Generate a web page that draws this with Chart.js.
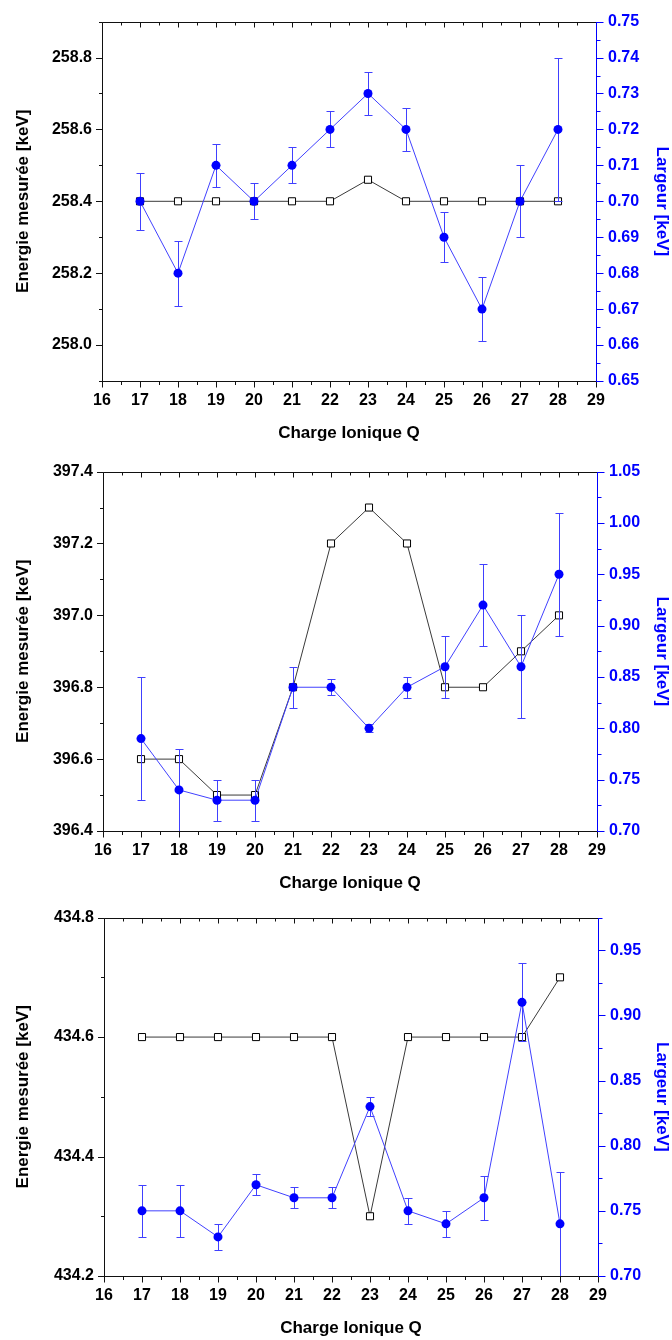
<!DOCTYPE html>
<html lang="fr">
<head>
<meta charset="utf-8">
<title>Energie mesurée et largeur en fonction de la charge ionique</title>
<script src="https://cdn.jsdelivr.net/npm/chart.js@4.4.1/dist/chart.umd.min.js"></script>
<style>
  html, body { margin: 0; padding: 0; background: #fff; }
  body { width: 672px; height: 1340px; position: relative; overflow: hidden; }
  canvas { position: absolute; left: 0; }
</style>
</head>
<body>
<canvas id="chart-1" width="672" height="450" style="top:0px"></canvas>
<canvas id="chart-2" width="672" height="446" style="top:450px"></canvas>
<canvas id="chart-3" width="672" height="444" style="top:896px"></canvas>
<script>
const charges = [17, 18, 19, 20, 21, 22, 23, 24, 25, 26, 27, 28];
const chargeTicks = [16, 17, 18, 19, 20, 21, 22, 23, 24, 25, 26, 27, 28, 29];

// panel 1 (~258 keV)
const energy1 = [258.4, 258.4, 258.4, 258.4, 258.4, 258.4, 258.46, 258.4, 258.4, 258.4, 258.4, 258.4];
const width1 = [0.70, 0.68, 0.71, 0.70, 0.71, 0.72, 0.73, 0.72, 0.69, 0.67, 0.70, 0.72];
const widthErr1 = [0.008, 0.009, 0.006, 0.005, 0.005, 0.005, 0.006, 0.006, 0.007, 0.009, 0.01, 0.02];
const energyTicks1 = [258.0, 258.2, 258.4, 258.6, 258.8];
const widthTicks1 = [0.65, 0.66, 0.67, 0.68, 0.69, 0.70, 0.71, 0.72, 0.73, 0.74, 0.75];
const energyRange1 = [257.9, 258.9];
const widthRange1 = [0.65, 0.75];

// panel 2 (~397 keV)
const energy2 = [396.6, 396.6, 396.5, 396.5, 396.8, 397.2, 397.3, 397.2, 396.8, 396.8, 396.9, 397.0];
const width2 = [0.79, 0.74, 0.73, 0.73, 0.84, 0.84, 0.80, 0.84, 0.86, 0.92, 0.86, 0.95];
const widthErr2 = [0.06, 0.04, 0.02, 0.02, 0.02, 0.008, 0.004, 0.01, 0.03, 0.04, 0.05, 0.06];
const energyTicks2 = [396.4, 396.6, 396.8, 397.0, 397.2, 397.4];
const widthTicks2 = [0.70, 0.75, 0.80, 0.85, 0.90, 0.95, 1.00, 1.05];
const energyRange2 = [396.4, 397.4];
const widthRange2 = [0.70, 1.05];

// panel 3 (~434 keV)
const energy3 = [434.6, 434.6, 434.6, 434.6, 434.6, 434.6, 434.3, 434.6, 434.6, 434.6, 434.6, 434.7];
const width3 = [0.75, 0.75, 0.73, 0.77, 0.76, 0.76, 0.83, 0.75, 0.74, 0.76, 0.91, 0.74];
const widthErr3 = [0.02, 0.02, 0.01, 0.008, 0.008, 0.008, 0.007, 0.01, 0.01, 0.017, 0.03, 0.04];
const energyTicks3 = [434.2, 434.4, 434.6, 434.8];
const widthTicks3 = [0.70, 0.75, 0.80, 0.85, 0.90, 0.95];
const energyRange3 = [434.2, 434.8];
const widthRange3 = [0.70, 0.975];

const FONT = '"Liberation Sans", Arial, Helvetica, sans-serif';
const BLUE = '#0000ff';
const BLUE_LINE = '#4040ff';

// minor ticks sit half way between the labelled ones
const minorValues = (majors, min, max) => {
  const step = majors[1] - majors[0];
  const out = [];
  for (let v = majors[0] - step / 2; v <= max + 1e-9; v += step) {
    if (v >= min - 1e-9) out.push(v);
  }
  return out;
};

const crisp = (v) => Math.round(v) + 0.5;

const framePlugin = {
  id: 'frame',
  afterDraw(chart) {
    const { ctx, chartArea: a, scales } = chart;
    const { x, y, y2 } = scales;
    const L = crisp(a.left), R = crisp(a.right), T = crisp(a.top), B = crisp(a.bottom);
    const seg = (x1, y1, x2, y2b) => {
      ctx.beginPath();
      ctx.moveTo(x1, y1);
      ctx.lineTo(x2, y2b);
      ctx.stroke();
    };
    ctx.save();
    ctx.lineWidth = 1;

    // black frame: left, top, bottom
    ctx.strokeStyle = '#111';
    seg(L, T, L, B + 0.5);
    seg(L, T, R, T);
    seg(L, B, R, B);

    // x ticks: out at the bottom, in at the top
    const xMajor = x.ticks.map((t) => t.value);
    xMajor.forEach((v) => {
      const px = crisp(x.getPixelForValue(v));
      seg(px, B, px, B + 6);
      seg(px, T, px, T + 5);
    });
    minorValues(xMajor, x.min, x.max).forEach((v) => {
      const px = crisp(x.getPixelForValue(v));
      seg(px, B, px, B + 3.5);
      seg(px, T, px, T + 3);
    });

    // left ticks
    const yMajor = y.ticks.map((t) => t.value);
    yMajor.forEach((v) => {
      const py = crisp(y.getPixelForValue(v));
      seg(L - 6.5, py, L, py);
    });
    minorValues(yMajor, y.min, y.max).forEach((v) => {
      const py = crisp(y.getPixelForValue(v));
      seg(L - 3.5, py, L, py);
    });

    // right axis in blue
    ctx.strokeStyle = BLUE;
    seg(R, T - 0.5, R, B + 0.5);
    const y2Major = y2.ticks.map((t) => t.value);
    y2Major.forEach((v) => {
      const py = crisp(y2.getPixelForValue(v));
      seg(R, py, R + 7, py);
    });
    minorValues(y2Major, y2.min, y2.max).forEach((v) => {
      const py = crisp(y2.getPixelForValue(v));
      seg(R, py, R + 4, py);
    });
    ctx.restore();
  },
};

const errorBarPlugin = {
  id: 'errorBars',
  beforeDatasetDraw(chart, args) {
    const ds = chart.data.datasets[args.index];
    if (!ds.errors) return;
    const { ctx, chartArea: a } = chart;
    const scale = chart.scales[args.meta.yAxisID];
    ctx.save();
    ctx.beginPath();
    ctx.rect(a.left, a.top - 1, a.right - a.left, a.bottom - a.top + 1);
    ctx.clip();
    ctx.strokeStyle = BLUE_LINE;
    ctx.lineWidth = 1;
    args.meta.data.forEach((pt, i) => {
      const v = ds.data[i].y;
      const e = ds.errors[i];
      const px = crisp(pt.x);
      const top = Math.round(scale.getPixelForValue(v + e)) + 0.5;
      const bot = Math.round(scale.getPixelForValue(v - e)) + 0.5;
      ctx.beginPath();
      ctx.moveTo(px, top);
      ctx.lineTo(px, bot);
      ctx.moveTo(px - 4, top);
      ctx.lineTo(px + 4, top);
      ctx.moveTo(px - 4, bot);
      ctx.lineTo(px + 4, bot);
      ctx.stroke();
    });
    ctx.restore();
  },
};

const toPoints = (ys) => charges.map((c, i) => ({ x: c, y: ys[i] }));

const buildConfig = (p) => ({
  type: 'line',
  data: {
    datasets: [
      {
        label: 'Largeur',
        data: toPoints(p.width),
        errors: p.widthErr,
        yAxisID: 'y2',
        order: 0,
        borderColor: BLUE_LINE,
        borderWidth: 1,
        pointStyle: 'circle',
        pointRadius: 4.5,
        pointBackgroundColor: BLUE,
        pointBorderColor: BLUE,
        pointBorderWidth: 0,
        tension: 0,
      },
      {
        label: 'Energie mesurée',
        data: toPoints(p.energy),
        yAxisID: 'y',
        order: 1,
        borderColor: '#3a3a3a',
        borderWidth: 1,
        pointStyle: 'rect',
        pointRadius: 5,
        pointBackgroundColor: '#ffffff',
        pointBorderColor: '#000000',
        pointBorderWidth: 1,
        tension: 0,
      },
    ],
  },
  options: {
    responsive: false,
    animation: false,
    devicePixelRatio: 1,
    layout: { padding: { top: 17, left: 0, right: 0, bottom: 0 } },
    plugins: {
      legend: { display: false },
      tooltip: { enabled: false },
    },
    scales: {
      x: {
        type: 'linear',
        position: 'bottom',
        min: 16,
        max: 29,
        afterBuildTicks: (s) => {
          s.ticks = chargeTicks.map((value) => ({ value }));
        },
        afterFit: (s) => {
          s.height = p.xHeight;
        },
        grid: { display: false, drawTicks: false },
        border: { display: false },
        ticks: {
          padding: 10,
          color: '#000',
          font: { family: FONT, size: 16, weight: 'bold' },
          callback: (v) => String(v),
        },
        title: {
          display: true,
          text: 'Charge Ionique Q',
          color: '#000',
          font: { family: FONT, size: 17, weight: 'bold' },
          padding: { top: 0, bottom: p.titlePad },
        },
      },
      y: {
        type: 'linear',
        position: 'left',
        min: p.energyRange[0],
        max: p.energyRange[1],
        afterBuildTicks: (s) => {
          s.ticks = p.energyTicks.map((value) => ({ value }));
        },
        afterFit: (s) => {
          s.width = p.left;
        },
        grid: { display: false, drawTicks: false },
        border: { display: false },
        ticks: {
          padding: 10,
          color: '#000',
          font: { family: FONT, size: 16, weight: 'bold' },
          callback: (v) => v.toFixed(1),
        },
        title: {
          display: true,
          text: 'Energie mesurée [keV]',
          color: '#000',
          font: { family: FONT, size: 17, weight: 'bold' },
          padding: { top: 13, bottom: 0 },
        },
      },
      y2: {
        type: 'linear',
        position: 'right',
        min: p.widthRange[0],
        max: p.widthRange[1],
        afterBuildTicks: (s) => {
          s.ticks = p.widthTicks.map((value) => ({ value }));
        },
        afterFit: (s) => {
          s.width = 672 - p.right;
        },
        grid: { display: false, drawTicks: false },
        border: { display: false },
        ticks: {
          padding: 12,
          color: BLUE,
          font: { family: FONT, size: 16, weight: 'bold' },
          callback: (v) => v.toFixed(2),
        },
        title: {
          display: true,
          text: 'Largeur [keV]',
          color: BLUE,
          font: { family: FONT, size: 17, weight: 'bold' },
          padding: { top: 0, bottom: 0 },
        },
      },
    },
  },
  plugins: [framePlugin, errorBarPlugin],
});

const initChart1 = () => {
  const config = buildConfig({
    energy: energy1, width: width1, widthErr: widthErr1,
    energyTicks: energyTicks1, widthTicks: widthTicks1,
    energyRange: energyRange1, widthRange: widthRange1,
    left: 102, right: 596, xHeight: 69, titlePad: 6.8,
  });
  return new Chart(document.getElementById('chart-1'), config);
};

const initChart2 = () => {
  const config = buildConfig({
    energy: energy2, width: width2, widthErr: widthErr2,
    energyTicks: energyTicks2, widthTicks: widthTicks2,
    energyRange: energyRange2, widthRange: widthRange2,
    left: 103, right: 597, xHeight: 65, titlePad: 2.8,
  });
  return new Chart(document.getElementById('chart-2'), config);
};

const initChart3 = () => {
  const config = buildConfig({
    energy: energy3, width: width3, widthErr: widthErr3,
    energyTicks: energyTicks3, widthTicks: widthTicks3,
    energyRange: energyRange3, widthRange: widthRange3,
    left: 104, right: 598, xHeight: 64, titlePad: 1.8,
  });
  return new Chart(document.getElementById('chart-3'), config);
};

const [chart1, chart2, chart3] = [initChart1(), initChart2(), initChart3()];
</script>
</body>
</html>
